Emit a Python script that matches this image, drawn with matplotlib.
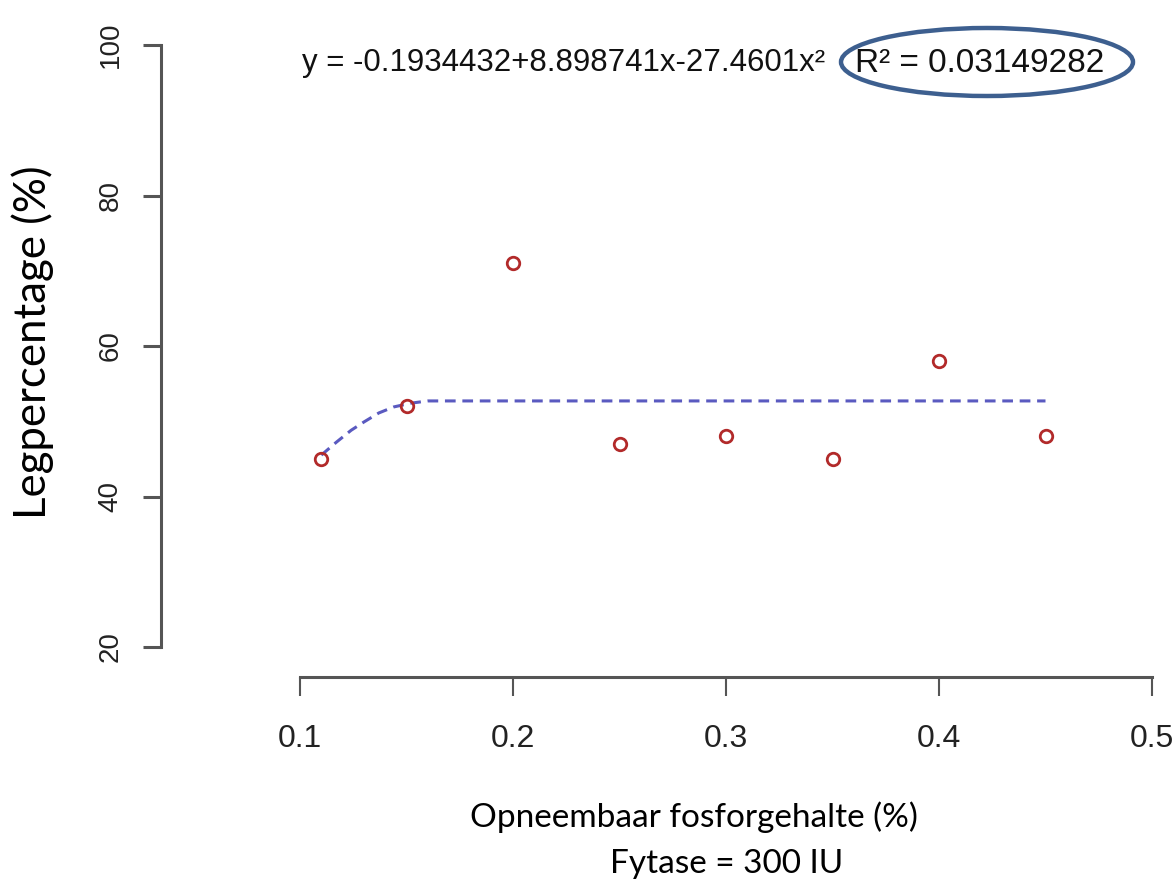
import matplotlib
matplotlib.use("Agg")
import matplotlib.pyplot as plt
from matplotlib.patches import Ellipse

# Data
fosfor = [0.11, 0.15, 0.20, 0.25, 0.30, 0.35, 0.40, 0.45]
legpercentage = [45, 52, 71, 47, 48, 45, 58, 48]

fit_x = [0.11, 0.117, 0.124, 0.130, 0.137, 0.144, 0.152, 0.16, 0.45]
fit_y = [45.5, 47.2, 48.8, 49.9, 51.1, 51.9, 52.4, 52.7, 52.7]

x_ticks = [0.1, 0.2, 0.3, 0.4, 0.5]
x_ticklabels = ["0.1", "0.2", "0.3", "0.4", "0.5"]
y_ticks = [20, 40, 60, 80, 100]
y_ticklabels = ["20", "40", "60", "80", "100"]

equation = "y = -0.1934432+8.898741x-27.4601x\u00b2"
r2_text = "R\u00b2 = 0.03149282"
ylabel = "Legpercentage (%)"
xlabel = "Opneembaar fosforgehalte (%)"
subtitle = "Fytase = 300 IU"

W, H = 1176, 888
fig = plt.figure(figsize=(W / 100, H / 100), dpi=100)
arial = ["Liberation Sans", "DejaVu Sans"]
cal = ["Lato", "DejaVu Sans"]

# axes area in pixels
left_px, right_px = 300, 1152
top_px, bot_px = 45, 647
ax = fig.add_axes([left_px / W, 1 - bot_px / H,
                   (right_px - left_px) / W, (bot_px - top_px) / H])
ax.set_xlim(0.1, 0.5)
ax.set_ylim(20, 100)

spine_col = "#555555"
ax.spines["top"].set_visible(False)
ax.spines["right"].set_visible(False)
ax.spines["left"].set_position(("outward", (left_px - 161) * 0.72))
ax.spines["bottom"].set_position(("outward", (677 - bot_px) * 0.72))
for s in ("left", "bottom"):
    ax.spines[s].set_color(spine_col)
    ax.spines[s].set_linewidth(2.2)

ax.set_xticks(x_ticks)
ax.set_xticklabels(x_ticklabels, family=arial, fontsize=23, color="#222222")
ax.set_yticks(y_ticks)
ax.set_yticklabels(y_ticklabels, family=arial, fontsize=20, color="#222222",
                   rotation=90, va="center")
ax.tick_params(axis="x", length=14, width=1.5, color=spine_col, pad=20)
ax.tick_params(axis="y", length=13, width=2.2, color=spine_col, pad=14)

ax.plot(fit_x, fit_y, color="#5a5ac0", lw=2.2, ls=(0, (3.5, 2.2)), zorder=2)
ax.plot(fosfor, legpercentage, ls="none", marker="o", ms=9, mfc="none",
        mec="#b22a2a", mew=2.0, zorder=3)

# equation text
fig.text(302 / W, 1 - 63 / H, equation, family=arial, fontsize=22.5,
         ha="left", va="center", color="#111111")
fig.text(855 / W, 1 - 63 / H, r2_text, family=arial, fontsize=24,
         ha="left", va="center", color="#111111")
fig.patches.append(Ellipse((987 / W, 1 - 62 / H), 292 / W, 68 / H,
                           transform=fig.transFigure, fill=False,
                           ec="#3d5f8f", lw=3.2))

fig.text(33 / W, 1 - 342 / H, ylabel, family=cal, fontsize=31.5, rotation=90,
         ha="center", va="center", color="#000000")
fig.text(694 / W, 1 - 817 / H, xlabel, family=cal, fontsize=24,
         ha="center", va="center", color="#000000")
fig.text(727 / W, 1 - 864 / H, subtitle, family=cal, fontsize=24,
         ha="center", va="center", color="#000000")

fig.savefig("out.png", dpi=100)
